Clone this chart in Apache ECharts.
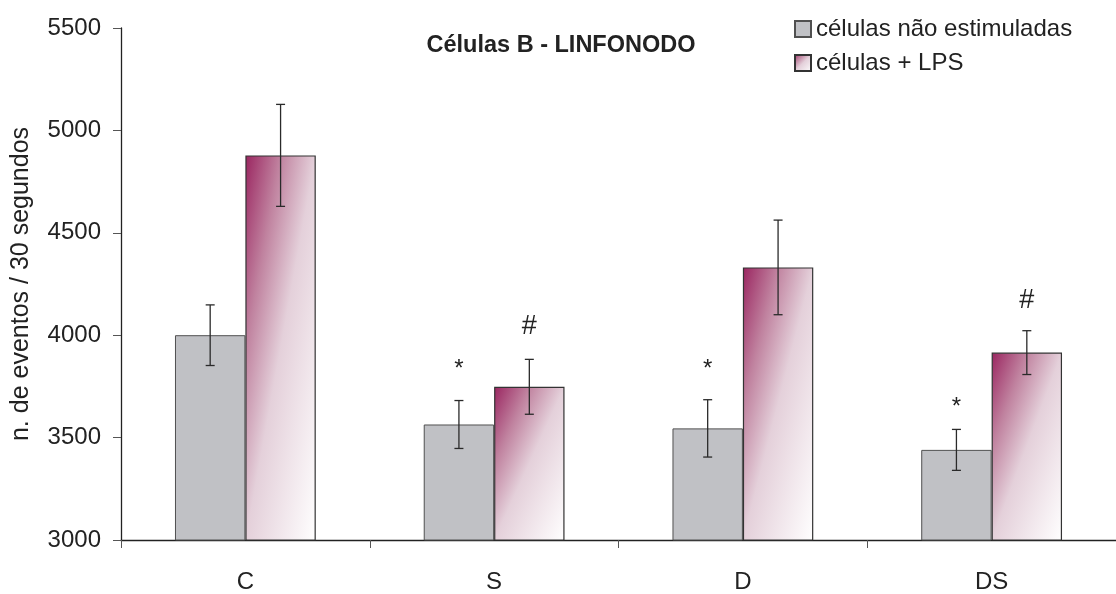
<!DOCTYPE html>
<html>
<head>
<meta charset="utf-8">
<script src="https://cdn.jsdelivr.net/npm/echarts@6/dist/echarts.min.js"></script>
<style>
html,body{margin:0;padding:0;background:#fff;}
#chart{width:1116px;height:594px;}
</style>
</head>
<body>
<div id="chart"></div>
<script>
// ---- data ----
const categories = ['C', 'S', 'D', 'DS'];
const seriesNames = ['células não estimuladas', 'células + LPS'];
const naoEstimuladas = [4000, 3564, 3545, 3440];
const naoEstimuladasErr = [148, 117, 140, 100];
const lps = [4878, 3748, 4331, 3915];
const lpsErr = [249, 134, 231, 107];
const starMarks = [null, 3857, 3857, 3672];   // "*" over células não estimuladas
const hashMarks = [null, 4042, null, 4167];   // "#" over células + LPS
const yMin = 3000, yMax = 5500, yStep = 500;

const FONT = "'Liberation Sans', Arial, sans-serif";
const BAR_FRAC = 0.283;
const GRID = { left: 121, top: 28, width: 1004, height: 518 };

const PINK_STOPS = [
  { offset: 0, color: '#9a2560' },
  { offset: 0.25, color: '#c0829f' },
  { offset: 0.5, color: '#e4d0da' },
  { offset: 1, color: '#ffffff' }
];

// diagonal gradient whose isolines run corner to corner (top-right to bottom-left)
function pinkFor(v) {
  const w = GRID.width / categories.length * BAR_FRAC;
  const h = Math.max(1, (v - yMin) / (yMax - yMin) * GRID.height);
  const d = h * h + w * w;
  const x2 = 2 * h * h / d, y2 = 2 * w * w / d;
  return new echarts.graphic.LinearGradient(0, 0, x2, y2, PINK_STOPS);
}

function errData(vals, errs) {
  return vals.map((v, i) => [i, v - errs[i], v + errs[i]]);
}
function markData(vals, txt) {
  const out = [];
  vals.forEach((v, i) => { if (v != null) out.push([i, v, txt]); });
  return out;
}

function errRender(side) {
  return function (params, api) {
    const ci = api.value(0);
    const pHi = api.coord([ci, api.value(2)]);
    const pLo = api.coord([ci, api.value(1)]);
    const band = api.size([1, 0])[0];
    const x = pHi[0] + side * band * BAR_FRAC / 2;
    const cap = 4.5;
    const st = { stroke: '#2a2a2a', lineWidth: 1.3 };
    return {
      type: 'group',
      children: [
        { type: 'line', shape: { x1: x, y1: pHi[1], x2: x, y2: pLo[1] }, style: st },
        { type: 'line', shape: { x1: x - cap, y1: pHi[1], x2: x + cap, y2: pHi[1] }, style: st },
        { type: 'line', shape: { x1: x - cap, y1: pLo[1], x2: x + cap, y2: pLo[1] }, style: st }
      ]
    };
  };
}

function markRender(side, size, dy) {
  return function (params, api) {
    const ci = api.value(0);
    const p = api.coord([ci, api.value(1)]);
    const band = api.size([1, 0])[0];
    const x = p[0] + side * band * BAR_FRAC / 2;
    return {
      type: 'text',
      x: x, y: p[1] + dy,
      style: {
        text: api.value(2),
        fontFamily: FONT, fontSize: size, fill: '#222',
        align: 'center', verticalAlign: 'middle'
      }
    };
  };
}

const chart = echarts.init(document.getElementById('chart'), null, { renderer: 'canvas' });
chart.setOption({
  animation: false,
  backgroundColor: '#ffffff',
  title: {
    text: 'Células B - LINFONODO',
    left: 556, top: 29, textAlign: 'center',
    textStyle: { fontFamily: FONT, fontSize: 23.5, fontWeight: 'bold', color: '#222' }
  },
  legend: {
    data: seriesNames,
    orient: 'vertical',
    left: 789, top: 12,
    itemWidth: 16, itemHeight: 16, itemGap: 10,
    icon: 'rect',
    textStyle: { fontFamily: FONT, fontSize: 24, color: '#222' }
  },
  grid: GRID,
  xAxis: {
    type: 'category',
    data: categories,
    axisLine: { lineStyle: { color: '#222', width: 1.3 } },
    axisTick: { show: true, length: 8, lineStyle: { color: '#555' } },
    axisLabel: { fontFamily: FONT, fontSize: 24, color: '#222', margin: 30 }
  },
  yAxis: {
    type: 'value',
    min: yMin, max: yMax, interval: yStep,
    name: 'n. de eventos / 30 segundos',
    nameLocation: 'middle', nameGap: 87,
    nameTextStyle: { fontFamily: FONT, fontSize: 25, color: '#222' },
    axisLine: { show: true, lineStyle: { color: '#222', width: 1.3 } },
    axisTick: { show: true, length: 8, lineStyle: { color: '#555' } },
    splitLine: { show: false },
    axisLabel: { fontFamily: FONT, fontSize: 24, color: '#222', margin: 20,
                 formatter: v => String(v) }
  },
  series: [
    {
      name: seriesNames[0], type: 'bar', data: naoEstimuladas,
      barWidth: (BAR_FRAC * 100) + '%', barGap: '0%',
      itemStyle: { color: '#c0c1c5', borderColor: '#505050', borderWidth: 1 }
    },
    {
      name: seriesNames[1], type: 'bar',
      data: lps.map(v => ({ value: v, itemStyle: { color: pinkFor(v) } })),
      barWidth: (BAR_FRAC * 100) + '%', barGap: '0%',
      itemStyle: {
        color: new echarts.graphic.LinearGradient(0, 0, 1, 1, PINK_STOPS),
        borderColor: '#333333', borderWidth: 1.2
      }
    },
    {
      type: 'custom', data: errData(naoEstimuladas, naoEstimuladasErr),
      renderItem: errRender(-1), encode: { x: 0, y: [1, 2] }, z: 5
    },
    {
      type: 'custom', data: errData(lps, lpsErr),
      renderItem: errRender(1), encode: { x: 0, y: [1, 2] }, z: 5
    },
    {
      type: 'custom', data: markData(starMarks, '*'),
      renderItem: markRender(-1, 24, 5), encode: { x: 0, y: 1 }, z: 6
    },
    {
      type: 'custom', data: markData(hashMarks, '#'),
      renderItem: markRender(1, 27, 0), encode: { x: 0, y: 1 }, z: 6
    }
  ]
});
</script>
</body>
</html>
